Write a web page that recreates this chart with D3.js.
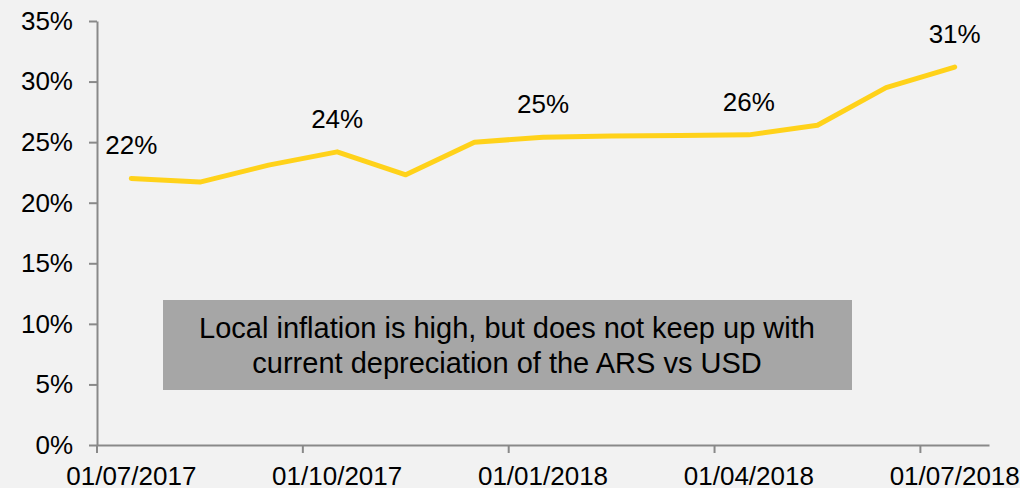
<html>
<script src="https://cdnjs.cloudflare.com/ajax/libs/d3/7.8.5/d3.min.js"></script>
<style>
  body { margin: 0; background: #f2f2f2; }
  svg { display: block; font-family: "Liberation Sans", Arial, sans-serif; }
</style>
<body>
<svg class="chart" width="1020" height="488"></svg>
<script>
// data (monthly, shown at mid month)
var months = ["2017-07", "2017-08", "2017-09", "2017-10", "2017-11", "2017-12",
              "2018-01", "2018-02", "2018-03", "2018-04", "2018-05", "2018-06", "2018-07"];
var values = [22.0, 21.7, 23.1, 24.2, 22.3, 25.0, 25.4, 25.5, 25.55, 25.6, 26.4, 29.5, 31.2];
var labelIdx = [0, 3, 6, 9, 12];
var labelText = ["22%", "24%", "25%", "26%", "31%"];
var yTicks = [0, 5, 10, 15, 20, 25, 30, 35];
var xTicks = ["2017-07", "2017-10", "2018-01", "2018-04", "2018-07"];
var xTickLabels = ["01/07/2017", "01/10/2017", "01/01/2018", "01/04/2018", "01/07/2018"];
var note = ["Local inflation is high, but does not keep up with",
            "current depreciation of the ARS vs USD"];

var svg = d3.select(".chart");
var axisColor = "#898989";

var x = d3.scaleBand().domain(months).range([97, 989]);
var y = d3.scaleLinear().domain([0, 35]).range([445, 21]);
var bw = x.bandwidth();

// annotation box
svg.append("rect")
  .attr("x", 163).attr("y", 300)
  .attr("width", 689).attr("height", 90)
  .attr("fill", "#a6a6a6");
svg.append("g").selectAll("text").data(note).enter()
  .append("text")
    .attr("x", 507)
    .attr("y", function(d, i) { return 338 + i * 35; })
    .attr("text-anchor", "middle")
    .attr("font-size", 29)
    .attr("fill", "#000")
    .text(function(d) { return d; });

// y axis
var yAxis = svg.append("g")
  .attr("transform", "translate(97,0)")
  .call(d3.axisLeft(y).tickValues(yTicks).tickSize(8).tickSizeOuter(0).tickPadding(16)
    .tickFormat(function(d) { return d + "%"; }));
yAxis.selectAll("text").attr("font-size", 26).attr("fill", "#000");

// x axis - ticks on month boundaries, labels centred in the month
var xAxis = svg.append("g")
  .attr("transform", "translate(0,445)")
  .call(d3.axisBottom(x).tickValues(xTicks).tickSize(8).tickSizeOuter(0).tickPadding(14)
    .tickFormat(function(d, i) { return xTickLabels[i]; }));
xAxis.selectAll(".tick line").attr("transform", "translate(" + (-bw / 2) + ",0)");
xAxis.selectAll("text").attr("font-size", 26).attr("fill", "#000");

svg.selectAll(".domain, .tick line")
  .attr("stroke", axisColor).attr("stroke-width", 2);
svg.selectAll(".tick text").attr("font-family", "Liberation Sans, Arial, sans-serif");

// the line
svg.append("path")
  .datum(values)
  .attr("fill", "none")
  .attr("stroke", "#ffd21a")
  .attr("stroke-width", 5)
  .attr("stroke-linecap", "round")
  .attr("stroke-linejoin", "round")
  .attr("d", d3.line()
    .x(function(d, i) { return x(months[i]) + bw / 2; })
    .y(function(d) { return y(d); }));

// value labels
svg.append("g").selectAll("text").data(labelIdx).enter()
  .append("text")
    .attr("x", function(d) { return x(months[d]) + bw / 2; })
    .attr("y", function(d) { return y(values[d]) - 24; })
    .attr("text-anchor", "middle")
    .attr("font-size", 26)
    .attr("fill", "#000")
    .text(function(d, i) { return labelText[i]; });
</script>
</body>
</html>
